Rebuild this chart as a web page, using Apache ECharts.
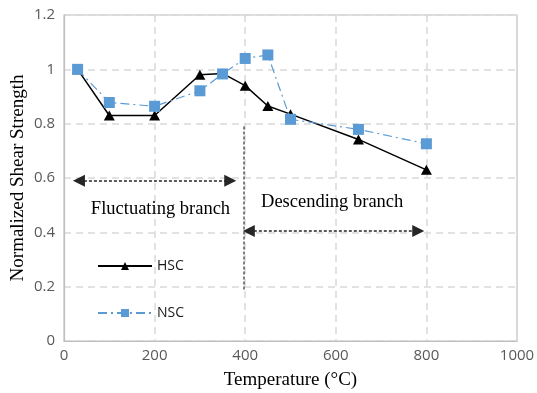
<!DOCTYPE html>
<html>
<head>
<meta charset="utf-8">
<script src="https://cdn.jsdelivr.net/npm/echarts@6/dist/echarts.min.js"></script>
<style>
  html, body { margin: 0; padding: 0; background: #fff; }
  #chart { width: 537px; height: 393px; }
</style>
</head>
<body>
<div id="chart"></div>
<script>
// Normalized shear strength versus exposure temperature
const temperatures = [30, 100, 200, 300, 350, 400, 450, 500, 650, 800];
const hscValues = [1.0, 0.83, 0.83, 0.98, 0.985, 0.94, 0.865, 0.835, 0.742, 0.63];
const nscValues = [1.0, 0.878, 0.864, 0.921, 0.983, 1.04, 1.053, 0.816, 0.779, 0.726];
const xTicks = { min: 0, max: 1000, interval: 200 };
const yTicks = { min: 0, max: 1.2, interval: 0.2 };
const branchLabels = ['Fluctuating branch', 'Descending branch'];

const pair = (xs, ys) => xs.map((x, i) => [x, ys[i]]);

const serif = '"Liberation Serif", "Times New Roman", serif';
const sans = '"Open Sans", "Liberation Sans", sans-serif';
const arrowHead = { symbol: 'triangle', symbolSize: [12, 12] };

const chart = echarts.init(document.getElementById('chart'), null, { renderer: 'canvas' });
chart.setOption({
  animation: false,
  backgroundColor: '#ffffff',
  grid: {
    left: 64, right: 20, top: 15, bottom: 52,
    outerBoundsMode: 'none',
    containLabel: false,
    show: true, borderColor: '#bfbfbf', borderWidth: 1.2, backgroundColor: 'transparent'
  },
  legend: {
    orient: 'vertical',
    left: 92, top: 253,
    itemWidth: 54, itemHeight: 10, itemGap: 31,
    textStyle: { fontFamily: sans, fontSize: 14, color: '#1a1a1a', lineHeight: 16 },
    data: ['HSC', 'NSC']
  },
  xAxis: {
    type: 'value',
    min: xTicks.min, max: xTicks.max, interval: xTicks.interval,
    name: 'Temperature (°C)',
    nameLocation: 'middle', nameGap: 30,
    nameMoveOverlap: false,
    nameTextStyle: { fontFamily: serif, fontSize: 19, color: '#000' },
    axisLine: { lineStyle: { color: '#bfbfbf', width: 1.2 } },
    axisTick: { show: false },
    axisLabel: {
      fontFamily: sans, fontSize: 15, color: '#595959', margin: 7,
      formatter: (v) => String(v)
    },
    splitLine: { lineStyle: { color: '#d9d9d9', type: [7, 5], width: 1.5 } }
  },
  yAxis: {
    type: 'value',
    min: yTicks.min, max: yTicks.max, interval: yTicks.interval,
    name: 'Normalized Shear Strength',
    nameLocation: 'middle', nameGap: 36,
    nameMoveOverlap: false,
    nameTextStyle: { fontFamily: serif, fontSize: 19, color: '#000' },
    axisLine: { show: true, lineStyle: { color: '#bfbfbf', width: 1.2 } },
    axisTick: { show: false },
    axisLabel: { fontFamily: sans, fontSize: 15, color: '#595959', margin: 9 },
    splitLine: { lineStyle: { color: '#d9d9d9', type: [7, 5], width: 1.5 } }
  },
  series: [
    {
      name: 'HSC',
      type: 'line',
      data: pair(temperatures, hscValues),
      symbol: 'triangle', symbolSize: [11, 10],
      itemStyle: { color: '#000' },
      lineStyle: { color: '#000', width: 1.5 },
      z: 3
    },
    {
      name: 'NSC',
      type: 'line',
      data: pair(temperatures, nscValues),
      symbol: 'rect', symbolSize: 11,
      itemStyle: { color: '#5b9bd5' },
      lineStyle: { color: '#5b9bd5', width: 1.2, type: [9, 4, 2, 4] },
      z: 4
    },
    {
      // branch annotations: divider, double arrows and labels
      name: 'branches',
      type: 'line',
      data: [],
      silent: true,
      markLine: {
        silent: true,
        animation: false,
        label: { show: false },
        lineStyle: { color: '#262626', type: [3, 2], width: 1.5 },
        data: [
          [
            { coord: [33, 0.59], symbol: arrowHead.symbol, symbolSize: arrowHead.symbolSize },
            { coord: [367, 0.59], symbol: arrowHead.symbol, symbolSize: arrowHead.symbolSize }
          ],
          [
            { coord: [408, 0.405], symbol: arrowHead.symbol, symbolSize: arrowHead.symbolSize },
            { coord: [782, 0.405], symbol: arrowHead.symbol, symbolSize: arrowHead.symbolSize }
          ],
          [
            { coord: [397, 0.79], symbol: 'none', lineStyle: { color: '#595959', type: [3, 2], width: 1.5 } },
            { coord: [397, 0.19], symbol: 'none' }
          ]
        ]
      },
      markPoint: {
        silent: true,
        symbol: 'circle', symbolSize: 0,
        label: {
          show: true, position: 'inside',
          fontFamily: serif, fontSize: 18.5, color: '#000'
        },
        data: [
          { coord: [213, 0.486], value: branchLabels[0], label: { formatter: branchLabels[0] } },
          { coord: [592, 0.512], value: branchLabels[1], label: { formatter: branchLabels[1] } }
        ]
      }
    }
  ]
});
</script>
</body>
</html>
